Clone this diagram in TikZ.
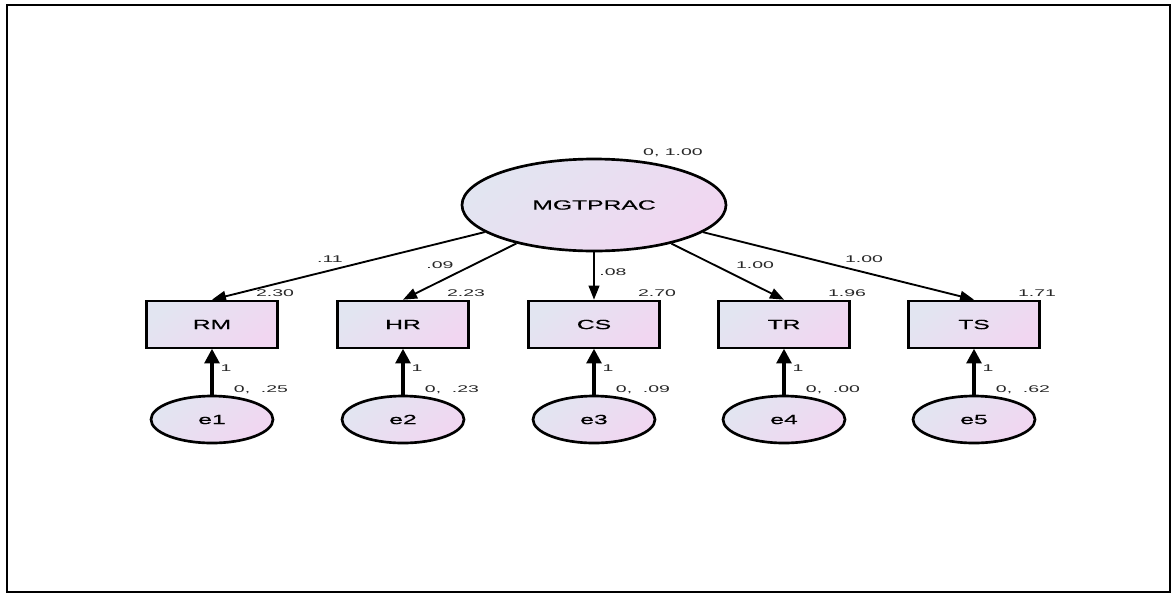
\documentclass[tikz,border=0pt]{standalone}
\usepackage{fontspec}
\setmainfont{Liberation Sans}
\newfontfamily\nodefnt[FakeStretch=1.85,FakeBold=0.6]{Liberation Sans}
\newfontfamily\lblfnt[FakeStretch=2.0]{Liberation Sans}
\usetikzlibrary{arrows.meta,shapes.geometric}
\definecolor{shadeA}{RGB}{226,229,241}
\definecolor{shadeB}{RGB}{241,214,241}
\definecolor{labelgray}{RGB}{40,40,40}
\tikzset{
  filled/.style={draw=black, line width=2pt, top color=shadeA, bottom color=shadeB, shading angle=40},
  latent/.style={filled, ellipse, minimum width=198pt, minimum height=69pt, inner sep=0pt, font=\nodefnt\fontsize{10}{12}\selectfont},
  errnode/.style={filled, ellipse, minimum width=91.5pt, minimum height=35.25pt, inner sep=0pt, font=\nodefnt\fontsize{10}{12}\selectfont},
  obsbox/.style={filled, rectangle, minimum width=98.25pt, minimum height=35.25pt, inner sep=0pt, font=\nodefnt\fontsize{10}{12}\selectfont},
  lbl/.style={inner sep=0pt, text=labelgray, font=\lblfnt\fontsize{7.3}{8}\selectfont},
  loadarrow/.style={line width=1.4pt, -{Triangle[length=10.5pt,width=8pt]}},
  errarrow/.style={line width=2.6pt, -{Triangle[length=11pt,width=11pt]}, shorten >=-0.5pt}
}
\begin{document}
\begin{tikzpicture}[x=0.75pt,y=-0.75pt]
\useasboundingbox (0,0) rectangle (1173,597);
\fill[white] (0,0) rectangle (1173,597);
\draw[line width=1.8pt] (7,5) rectangle (1170,592);

\node[latent] (M) at (594,205) {MGTPRAC};
\node[lbl] (Mv) at (673,153) {0, 1.00};

\foreach \n/\x/\v/\e/\ev/\p/\px/\py in {RM/212/2.30/e1/{0,\ \ .25}/.11/330/259, HR/403/2.23/e2/{0,\ \ .23}/.09/440/265, CS/594/2.70/e3/{0,\ \ .09}/.08/613/272, TR/784/1.96/e4/{0,\ \ .00}/1.00/755/265, TS/974/1.71/e5/{0,\ \ .62}/1.00/864/259}{
  \node[obsbox] (\n) at (\x,324.5) {\n};
  \node[errnode] (\e) at (\x,419.5) {\e};
  \node[lbl] (\n v) at (\x+63,293) {\v};
  \node[lbl] (\e v) at (\x+49,390) {\ev};
  \node[lbl] (\e w) at (\x+14,368) {1};
  \node[lbl] (\n p) at (\px,\py) {\p};
  \draw[loadarrow] (M) -- (\n.north);
  \draw[errarrow] (\e.north) -- (\n.south);
}
\end{tikzpicture}
\end{document}
